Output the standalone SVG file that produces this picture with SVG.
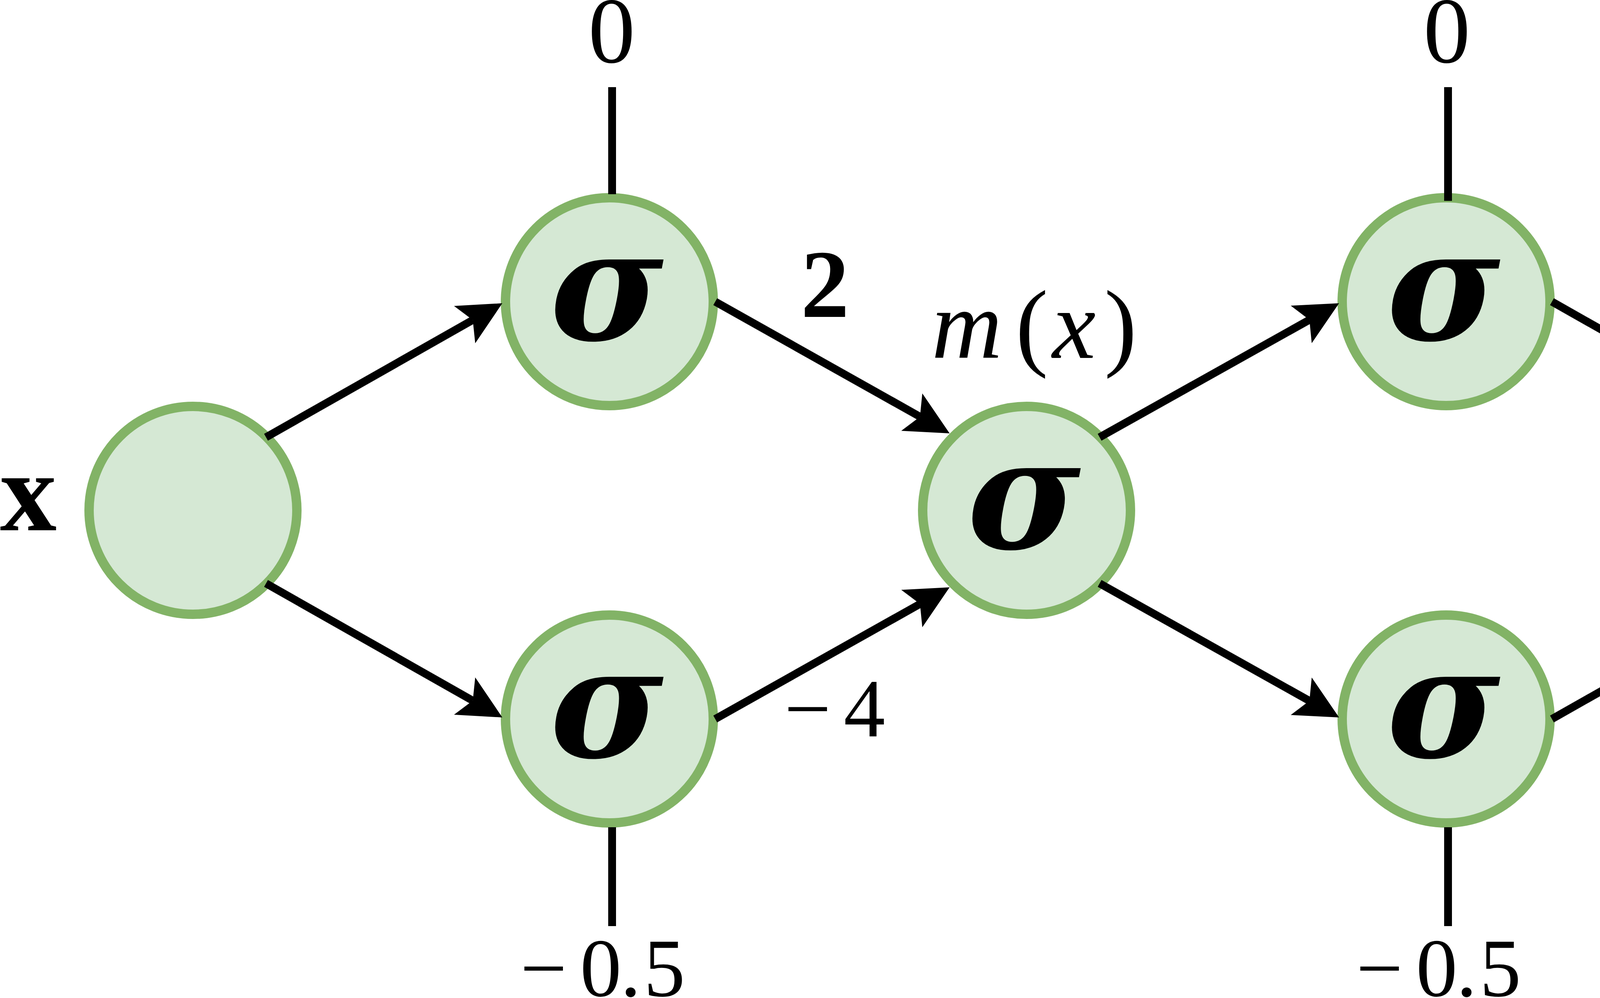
<svg xmlns="http://www.w3.org/2000/svg" width="6222" height="2554" viewBox="0 0 6222 2554">
<style>
.node{fill:#d5e8d4;stroke:#82b366;stroke-width:24}
.sig{font-family:"DejaVu Serif","Liberation Serif",serif;font-weight:bold;font-style:italic;font-size:395px;text-anchor:middle;fill:#000}
.lbl{font-family:"Liberation Serif","DejaVu Serif",serif;fill:#000}
.it{font-style:italic}
.edge{fill:none;stroke:#000;stroke-width:20}
.bias{fill:none;stroke:#000;stroke-width:20}
</style>
<defs>
<marker id="arr" markerUnits="userSpaceOnUse" markerWidth="300" markerHeight="300" viewBox="-150 -150 300 300" refX="0" refY="0" orient="auto" overflow="visible">
<path d="M87,0 L-24,-55 L0,0 L-24,55 Z" fill="#000"/>
</marker>
</defs>
<rect x="0" y="0" width="6222" height="2554" fill="#fff"/>

<g id="node-input">
<circle class="node" cx="494" cy="1306" r="266"/>
</g>
<g id="label-x">
<text class="lbl" x="0" y="1357" font-size="290" font-weight="bold">x</text>
</g>
<g id="node-s1">
<circle class="node" cx="1560" cy="772" r="266"/>
<text class="sig" x="1553" y="869">σ</text>
</g>
<g id="node-s2">
<circle class="node" cx="1560" cy="1840" r="266"/>
<text class="sig" x="1553" y="1937">σ</text>
</g>
<g id="node-m">
<circle class="node" cx="2628" cy="1306" r="266"/>
<text class="sig" x="2621" y="1403">σ</text>
</g>
<g id="node-s3">
<circle class="node" cx="3702" cy="772" r="266"/>
<text class="sig" x="3695" y="869">σ</text>
</g>
<g id="node-s4">
<circle class="node" cx="3702" cy="1840" r="266"/>
<text class="sig" x="3695" y="1937">σ</text>
</g>
<g id="node-mm">
<circle class="node" cx="4765" cy="1306" r="266"/>
<text class="sig" x="4758" y="1403">σ</text>
</g>

<g id="connectors">
<line class="bias" x1="1567" y1="223" x2="1567" y2="497"/>
<line class="bias" x1="1567" y1="2117" x2="1567" y2="2370"/>
<line class="bias" x1="3707" y1="223" x2="3707" y2="514"/>
<line class="bias" x1="3707" y1="2117" x2="3707" y2="2370"/>
<line class="edge" x1="681" y1="1119" x2="1210.3" y2="818.9" marker-end="url(#arr)"/>
<line class="edge" x1="681" y1="1493" x2="1210.3" y2="1793.1" marker-end="url(#arr)"/>
<line class="edge" x1="1831" y1="772" x2="2355.1" y2="1066.4" marker-end="url(#arr)"/>
<line class="edge" x1="1831" y1="1840" x2="2355.1" y2="1545.6" marker-end="url(#arr)"/>
<line class="edge" x1="2815" y1="1119" x2="3352.1" y2="818.5" marker-end="url(#arr)"/>
<line class="edge" x1="2815" y1="1493" x2="3352.1" y2="1793.5" marker-end="url(#arr)"/>
<line class="edge" x1="3973" y1="772" x2="4492.3" y2="1066.1" marker-end="url(#arr)"/>
<line class="edge" x1="3973" y1="1840" x2="4492.3" y2="1545.9" marker-end="url(#arr)"/>
<line class="edge" x1="5033" y1="1307" x2="5526" y2="1307" marker-end="url(#arr)"/>
</g>

<g id="labels">
<text class="lbl" x="1566" y="160" font-size="240" text-anchor="middle">0</text>
<text class="lbl" x="3704" y="160" font-size="240" text-anchor="middle">0</text>
<text class="lbl" x="2112" y="811" font-size="248" font-weight="bold" text-anchor="middle">2</text>
<text class="lbl" x="4251" y="811" font-size="248" font-weight="bold" text-anchor="middle">2</text>
<text class="lbl" y="916" font-size="250"><tspan class="it" x="2385">m</tspan><tspan x="2600">(</tspan><tspan class="it" x="2694">x</tspan><tspan x="2827">)</tspan></text>
<text class="lbl" y="887" font-size="222"><tspan class="it" x="4404">m</tspan><tspan x="4592">(</tspan><tspan class="it" x="4673">m</tspan><tspan x="4861">(</tspan><tspan class="it" x="4935">x</tspan><tspan x="5064">)</tspan><tspan x="5144">)</tspan></text>
<text class="lbl" y="1885" font-size="212"><tspan x="2008">−</tspan><tspan x="2160">4</tspan></text>
<text class="lbl" y="1885" font-size="212"><tspan x="4146">−</tspan><tspan x="4298">4</tspan></text>
<text class="lbl" y="2549" font-size="212"><tspan x="1332">−</tspan><tspan x="1485">0</tspan><tspan x="1588">.</tspan><tspan x="1648">5</tspan></text>
<text class="lbl" y="2549" font-size="212"><tspan x="3472">−</tspan><tspan x="3625">0</tspan><tspan x="3728">.</tspan><tspan x="3788">5</tspan></text>
<text class="lbl" x="5872" y="1338" font-size="410" font-weight="bold" letter-spacing="30">...</text>
</g>
</svg>
